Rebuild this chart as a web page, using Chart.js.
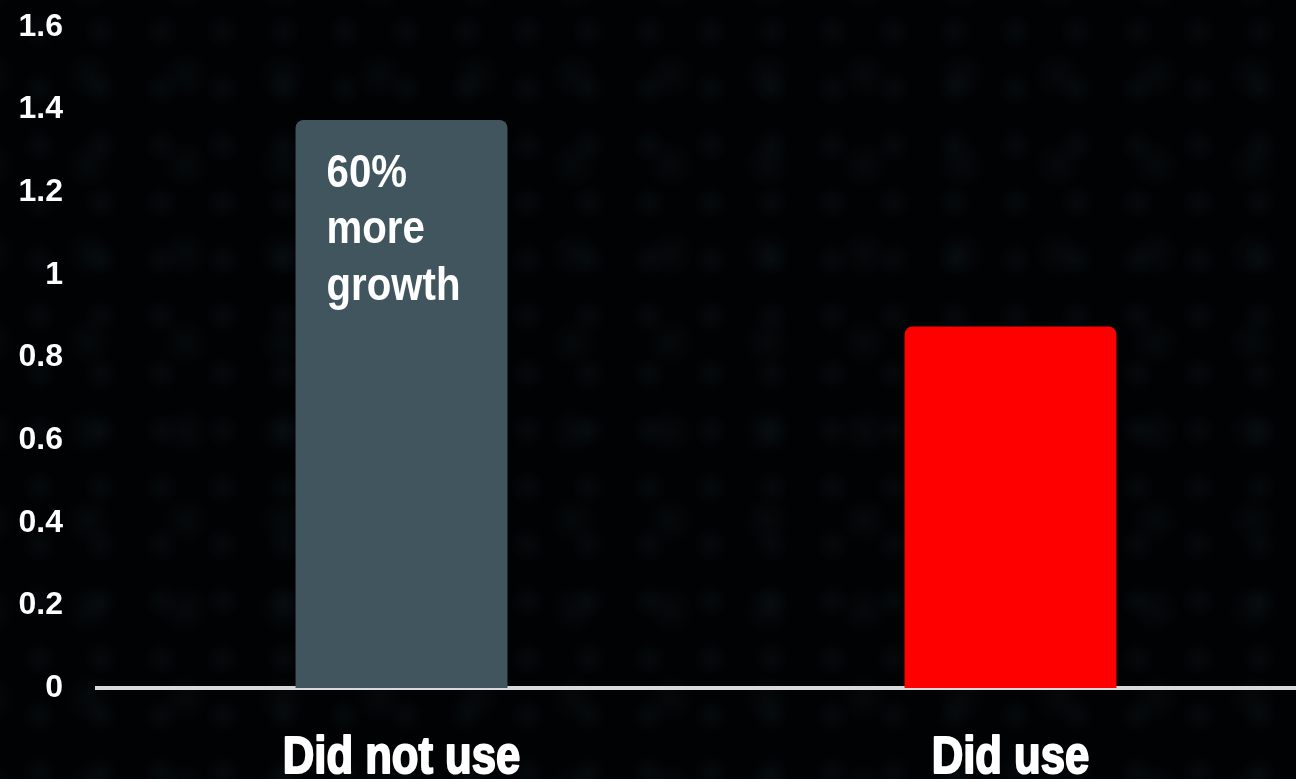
<!DOCTYPE html>
<html lang="en">
<head>
<meta charset="UTF-8">
<title>Growth: did not use vs did use</title>
<script src="https://cdn.jsdelivr.net/npm/chart.js"></script>
<style>
    html, body {
        margin: 0;
        padding: 0;
        width: 1296px;
        height: 779px;
        overflow: hidden;
        background-color: #010203;
        background-image:
            radial-gradient(circle, rgba(14, 26, 31, 0.32) 0, rgba(14, 26, 31, 0) 17px),
            radial-gradient(circle, rgba(14, 26, 31, 0.28) 0, rgba(14, 26, 31, 0) 24px);
        background-size: 61px 57px, 97px 89px;
        background-position: 9px 3px, 40px 31px;
    }
    #wrap {
        position: absolute;
        left: 0;
        top: 0;
        width: 1320px;
        height: 779px;
    }
</style>
</head>
<body>
<div id="wrap"><canvas id="growthChart"></canvas></div>

<script>
// chart data
const categories = ["Did not use", "Did use"];
const growthValues = [1.375, 0.875];
const barColors = ["#41555f", "#ff0000"];
const yTicks = [0, 0.2, 0.4, 0.6, 0.8, 1, 1.2, 1.4, 1.6];
const noteLines = ["60%", "more", "growth"];

const NARROW = 0.855; // horizontal squeeze to get a condensed look
const FONT = "'Liberation Sans', Arial, sans-serif";

// draw text squeezed horizontally around an anchor point
function narrowText(ctx, text, x, y, align, heavy) {
    ctx.save();
    ctx.translate(x, y);
    ctx.scale(NARROW, 1);
    ctx.textAlign = align;
    ctx.fillText(text, 0, 0);
    if (heavy) {
        ctx.lineWidth = heavy;
        ctx.lineJoin = "round";
        ctx.strokeText(text, 0, 0);
    }
    ctx.restore();
}

// condensed category labels under the axis + note inside the first bar
const condensedText = {
    id: "condensedText",
    afterDraw(chart) {
        const ctx = chart.ctx;
        const xs = chart.scales.x;
        ctx.save();
        ctx.fillStyle = "#ffffff";
        ctx.strokeStyle = "#ffffff";
        ctx.textBaseline = "alphabetic";

        ctx.font = "bold 51px " + FONT;
        chart.data.labels.forEach((lbl, i) => {
            narrowText(ctx, lbl, xs.getPixelForTick(i), xs.top + 85, "center", 2);
        });

        const bar = chart.getDatasetMeta(0).data[0];
        const left = bar.x - bar.width / 2 + 31;
        ctx.font = "bold 47px " + FONT;
        noteLines.forEach((line, i) => {
            narrowText(ctx, line, left, bar.y + 67 + i * 56.5, "left", 0);
        });
        ctx.restore();
    }
};

new Chart(document.getElementById("growthChart"), {
    type: "bar",
    data: {
        labels: categories,
        datasets: [{
            data: growthValues,
            backgroundColor: barColors,
            borderRadius: { topLeft: 8, topRight: 8 },
            borderSkipped: "bottom",
            categoryPercentage: 1,
            barPercentage: 0.348
        }]
    },
    options: {
        responsive: true,
        maintainAspectRatio: false,
        animation: false,
        layout: { padding: { top: 0, right: 5, left: 0, bottom: 0 } },
        plugins: {
            legend: { display: false },
            tooltip: { enabled: false }
        },
        scales: {
            x: {
                grid: { display: false, drawTicks: false },
                border: { display: true, color: "#d9d9d9", width: 4 },
                ticks: { display: false },
                afterFit(axis) { axis.height = 91; }
            },
            y: {
                min: 0,
                max: 1.6,
                afterBuildTicks(axis) { axis.ticks = yTicks.map(v => ({ value: v })); },
                grid: { display: false, drawTicks: false },
                border: { display: false },
                ticks: {
                    color: "#ffffff",
                    padding: 34,
                    font: { family: FONT, size: 32, weight: "bold" },
                    callback: v => String(v)
                },
                afterFit(axis) {
                    axis.width = 97;
                    axis.paddingTop = 27;
                    axis.paddingBottom = 0;
                }
            }
        }
    },
    plugins: [condensedText]
});
</script>
</body>
</html>
